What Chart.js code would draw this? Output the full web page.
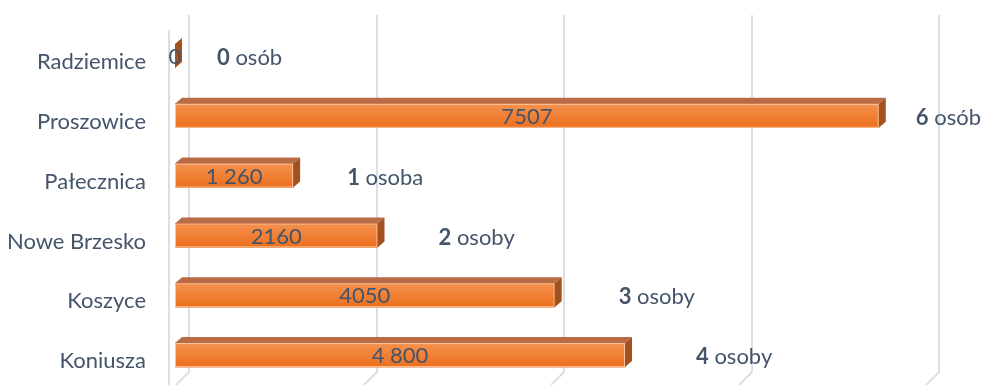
<!DOCTYPE html>
<html lang="pl">
<head>
<meta charset="utf-8">
<script src="https://cdn.jsdelivr.net/npm/chart.js@4.4.0/dist/chart.umd.min.js"></script>
<style>
    html, body { margin: 0; padding: 0; background: #ffffff; }
    canvas { display: block; }
</style>
</head>
<body>
<canvas id="myChart" width="981" height="385"></canvas>
<script>
// Dane wykresu
const gminy = ['Radziemice', 'Proszowice', 'Pałecznica', 'Nowe Brzesko', 'Koszyce', 'Koniusza'];
const wartosci = [0, 7507, 1260, 2160, 4050, 4800];
const etykietyWartosci = ['0', '7507', '1 260', '2160', '4050', '4 800'];
const liczbaOsob = [0, 6, 1, 2, 3, 4];
const podzialkaX = [0, 2000, 4000, 6000, 8000];

// odstep napisu "N osób" od konca slupka (px)
const odstepyOsob = [35, 30, 47, 54, 57, 64];

const KOLOR_TEKSTU = '#44546A';
const CZCIONKA = 'Lato, "Open Sans", sans-serif';
const GLEB_X = 7, GLEB_Y = 6;   // glebokosc slupka 3D

function odmianaOsob(n) {
    if (n === 1) return 'osoba';
    const r10 = n % 10, r100 = n % 100;
    if (r10 >= 2 && r10 <= 4 && (r100 < 12 || r100 > 14)) return 'osoby';
    return 'osób';
}

const efekt3D = {
    id: 'efekt3D',
    beforeDatasetsDraw(chart) {
        const ctx = chart.ctx;
        const sx = chart.scales.x;
        const area = chart.chartArea;
        ctx.save();
        ctx.strokeStyle = '#DADFE8';
        ctx.lineWidth = 2;
        // linie siatki na tylnej scianie
        podzialkaX.forEach(v => {
            const x = Math.round(sx.getPixelForValue(v)) + 14;
            ctx.beginPath();
            ctx.moveTo(x, 15);
            ctx.lineTo(x, area.bottom - 13);
            ctx.lineTo(x - 13, area.bottom);
            ctx.stroke();
        });
        // lewa sciana
        ctx.beginPath();
        ctx.moveTo(area.left - 6, 30);
        ctx.lineTo(area.left - 6, area.bottom);
        ctx.stroke();
        ctx.restore();
    },
    afterDatasetsDraw(chart) {
        const ctx = chart.ctx;
        const meta = chart.getDatasetMeta(0);
        ctx.save();
        meta.data.forEach((bar, i) => {
            const x0 = bar.base, x1 = bar.x;
            const top = bar.y - bar.height / 2, bot = bar.y + bar.height / 2;
            // przod z gradientem
            if (x1 - x0 > 0) {
                const g = ctx.createLinearGradient(0, top, 0, bot);
                g.addColorStop(0, '#F5924F');
                g.addColorStop(1, '#EC6F1C');
                ctx.fillStyle = g;
                ctx.fillRect(x0, top, x1 - x0, bot - top);
                ctx.strokeStyle = 'rgba(250, 205, 175, 0.9)';
                ctx.lineWidth = 1;
                ctx.strokeRect(x0 + 0.5, top + 0.5, x1 - x0 - 1, bot - top - 1);
            }
            // gora
            ctx.fillStyle = '#B96B45';
            ctx.beginPath();
            ctx.moveTo(x0, top);
            ctx.lineTo(x0 + GLEB_X, top - GLEB_Y);
            ctx.lineTo(x1 + GLEB_X, top - GLEB_Y);
            ctx.lineTo(x1, top);
            ctx.closePath();
            ctx.fill();
            // bok
            ctx.fillStyle = '#A3521F';
            ctx.beginPath();
            ctx.moveTo(x1, top);
            ctx.lineTo(x1 + GLEB_X, top - GLEB_Y);
            ctx.lineTo(x1 + GLEB_X, bot - GLEB_Y);
            ctx.lineTo(x1, bot);
            ctx.closePath();
            ctx.fill();

            // wartosc w srodku slupka
            ctx.fillStyle = KOLOR_TEKSTU;
            ctx.font = '22px ' + CZCIONKA;
            ctx.textAlign = 'center';
            ctx.textBaseline = 'middle';
            ctx.fillText(etykietyWartosci[i], (x0 + x1) / 2, bar.y + 1);

            // liczba osob
            const n = liczbaOsob[i];
            let tx = x1 + GLEB_X + odstepyOsob[i];
            const ty = bar.y + 2;
            ctx.textAlign = 'left';
            ctx.font = 'bold 22px ' + CZCIONKA;
            const liczba = String(n);
            ctx.fillText(liczba, tx, ty);
            tx += ctx.measureText(liczba).width;
            ctx.font = '22px ' + CZCIONKA;
            ctx.fillText(' ' + odmianaOsob(n), tx, ty);
        });
        ctx.restore();
    }
};

const canvas = document.getElementById('myChart');
const chart = new Chart(canvas, {
    type: 'bar',
    data: {
        labels: gminy,
        datasets: [{
            label: 'Wartość',
            data: wartosci,
            backgroundColor: '#ED7D31',
            barThickness: 24,
        }]
    },
    options: {
        indexAxis: 'y',
        responsive: false,
        animation: false,
        layout: {
            padding: { left: 0, right: 56, top: 26, bottom: 0 }
        },
        plugins: {
            legend: { display: false },
            tooltip: { enabled: false }
        },
        scales: {
            x: {
                display: false,
                min: 0,
                max: 8000,
                ticks: { stepSize: 2000 }
            },
            y: {
                grid: { display: false, tickLength: 29 },
                border: { display: false },
                ticks: {
                    color: KOLOR_TEKSTU,
                    font: { family: CZCIONKA, size: 22 },
                    padding: 0,
                    labelOffset: 6
                },
                afterFit: function (scale) {
                    scale.width = 175;
                    scale.paddingTop = 0;
                    scale.paddingBottom = 0;
                }
            }
        }
    },
    plugins: [efekt3D]
});
</script>
</body>
</html>
